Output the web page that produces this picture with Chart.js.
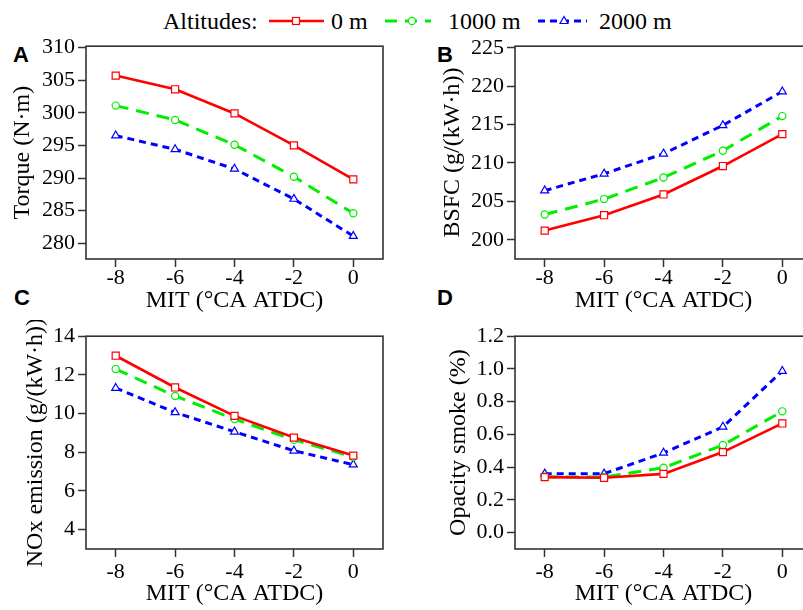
<!DOCTYPE html>
<html lang="en">
<head>
  <meta charset="UTF-8">
  <title>MIT at different altitudes</title>
  <script src="https://cdn.jsdelivr.net/npm/chart.js"></script>
  <style>
    html, body { margin: 0; padding: 0; background: #fff; overflow: hidden; }
    body { width: 803px; height: 610px; position: relative; font-family: 'Liberation Serif', 'Times New Roman', serif; }
    .panel { position: absolute; }
    .letter { position: absolute; font-family: 'Liberation Sans', Arial, sans-serif; font-weight: bold; font-size: 22px; line-height: 22px; color: #000; }
    .lg { position: absolute; top: 9px; font-size: 24px; line-height: 24px; color: #000; white-space: nowrap; }
    svg.lg { top: 0; }
  </style>
</head>
<body>
  <!-- legend -->
  <span class="lg" style="left:163px">Altitudes:</span>
  <svg class="lg" style="left:265px" width="64" height="40">
    <line x1="4" y1="21" x2="59" y2="21" stroke="#ff0000" stroke-width="2.6"/>
    <rect x="27.5" y="17.5" width="7" height="7" fill="#fff" stroke="#ff0000" stroke-width="1.2"/>
  </svg>
  <span class="lg" style="left:331px">0 m</span>
  <svg class="lg" style="left:381px" width="56" height="40">
    <line x1="4" y1="21" x2="50" y2="21" stroke="#00ee00" stroke-width="3" stroke-dasharray="12,8"/>
    <circle cx="31" cy="21" r="3.6" fill="#fff" stroke="#00ee00" stroke-width="1.2"/>
  </svg>
  <span class="lg" style="left:448px">1000 m</span>
  <svg class="lg" style="left:534px" width="58" height="40">
    <line x1="4" y1="21" x2="53" y2="21" stroke="#0000ff" stroke-width="3" stroke-dasharray="7,5"/>
    <polygon points="30,16.5 34,23.5 26,23.5" fill="#fff" stroke="#0000ff" stroke-width="1.2"/>
  </svg>
  <span class="lg" style="left:599px">2000 m</span>

  <div class="letter" style="left:13px;top:44px">A</div>
  <div class="letter" style="left:437px;top:44px">B</div>
  <div class="letter" style="left:14px;top:287px">C</div>
  <div class="letter" style="left:437px;top:287px">D</div>

  <div class="panel" id="pA"><canvas id="chartA"></canvas></div>
  <div class="panel" id="pB"><canvas id="chartB"></canvas></div>
  <div class="panel" id="pC"><canvas id="chartC"></canvas></div>
  <div class="panel" id="pD"><canvas id="chartD"></canvas></div>

  <script>
    // main injection timing (°CA ATDC)
    const mit = [-8, -6, -4, -2, 0];
    const mitTicks = [-8, -6, -4, -2, 0];
    const altitudes = ['0 m', '1000 m', '2000 m'];

    // A: torque
    const torque0 = [305.7, 303.6, 299.9, 295.0, 289.8];
    const torque1000 = [301.1, 298.9, 295.1, 290.2, 284.6];
    const torque2000 = [296.5, 294.4, 291.4, 286.8, 281.1];
    const torqueTicks = [280, 285, 290, 295, 300, 305, 310];

    // B: BSFC
    const bsfc0 = [201.2, 203.2, 205.9, 209.6, 213.75];
    const bsfc1000 = [203.3, 205.3, 208.1, 211.6, 216.1];
    const bsfc2000 = [206.4, 208.6, 211.2, 214.9, 219.3];
    const bsfcTicks = [200, 205, 210, 215, 220, 225];

    // C: NOx
    const nox0 = [12.99, 11.35, 9.88, 8.76, 7.83];
    const nox1000 = [12.30, 10.91, 9.72, 8.64, 7.76];
    const nox2000 = [11.32, 10.06, 9.06, 8.08, 7.36];
    const noxTicks = [4, 6, 8, 10, 12, 14];

    // D: opacity smoke
    const smoke0 = [0.339, 0.335, 0.359, 0.492, 0.667];
    const smoke1000 = [0.341, 0.339, 0.396, 0.535, 0.741];
    const smoke2000 = [0.360, 0.360, 0.487, 0.646, 0.987];
    const smokeTicks = [0.0, 0.2, 0.4, 0.6, 0.8, 1.0, 1.2];

    const serif = "'Liberation Serif', 'Times New Roman', serif";
    const axisColor = '#333';

    // frame round the plot area (Chart.js only draws the axis borders)
    const framePlugin = {
      id: 'frame',
      afterDraw(chart) {
        const a = chart.chartArea;
        const ctx = chart.ctx;
        ctx.save();
        ctx.strokeStyle = axisColor;
        ctx.lineWidth = 1.6;
        ctx.strokeRect(a.left, a.top, a.right - a.left, a.bottom - a.top);
        ctx.restore();
      }
    };

    function series(ys) {
      return mit.map((x, i) => ({ x: x, y: ys[i] }));
    }

    function datasets(s0, s1000, s2000) {
      return [
        { label: altitudes[0], data: series(s0), borderColor: '#ff0000', borderWidth: 2.6,
          pointStyle: 'rect', pointRadius: 5, pointBorderWidth: 1.2, pointBackgroundColor: '#fff' },
        { label: altitudes[1], data: series(s1000), borderColor: '#00ee00', borderWidth: 3, borderDash: [13, 8],
          pointStyle: 'circle', pointRadius: 3.6, pointBorderWidth: 1.2, pointBackgroundColor: '#fff' },
        { label: altitudes[2], data: series(s2000), borderColor: '#0000ff', borderWidth: 3, borderDash: [7, 5],
          pointStyle: 'triangle', pointRadius: 4.6, pointBorderWidth: 1.2, pointBackgroundColor: '#fff' }
      ];
    }

    // p: container box, a: plot area (page px)
    function makePanel(id, p, a, ds, yMin, yMax, yTicks, yFmt, yTitle, yTitleX, xPad, xTitleY) {
      const box = document.getElementById('p' + id);
      box.style.left = p.L + 'px';
      box.style.top = p.T + 'px';
      box.style.width = p.W + 'px';
      box.style.height = p.H + 'px';

      new Chart(document.getElementById('chart' + id), {
        type: 'line',
        data: { datasets: ds },
        options: {
          responsive: true,
          maintainAspectRatio: false,
          animation: false,
          layout: { padding: { top: a.T - p.T, right: p.L + p.W - a.R, left: 0, bottom: 0 } },
          plugins: { legend: { display: false }, tooltip: { enabled: false } },
          elements: { line: { tension: 0 } },
          scales: {
            x: {
              type: 'linear', min: -9, max: 1,
              afterFit(s) { s.height = p.T + p.H - a.B; },
              afterBuildTicks(s) { s.ticks = mitTicks.map(v => ({ value: v })); },
              border: { display: false },
              grid: { drawOnChartArea: false, drawTicks: true, tickLength: 8, tickColor: axisColor, tickWidth: 1.5 },
              ticks: { color: '#000', font: { family: serif, size: 22 }, padding: xPad, maxRotation: 0,
                callback: v => String(v) },
              title: { display: true, text: 'MIT (°CA ATDC)', color: '#000', font: { family: serif, size: 24 },
                padding: { top: 0, bottom: p.T + p.H - 14.4 - xTitleY } }
            },
            y: {
              type: 'linear', min: yMin, max: yMax,
              afterFit(s) { s.width = a.L - p.L; },
              afterBuildTicks(s) { s.ticks = yTicks.map(v => ({ value: v })); },
              border: { display: false },
              grid: { drawOnChartArea: false, drawTicks: true, tickLength: 8, tickColor: axisColor, tickWidth: 1.5 },
              ticks: { color: '#000', font: { family: serif, size: 22 }, padding: 3, callback: yFmt },
              title: { display: true, text: yTitle, color: '#000', font: { family: serif, size: 24 },
                padding: { top: yTitleX - p.L - 14.4, bottom: 0 } }
            }
          }
        },
        plugins: [framePlugin]
      });
    }

    const intFmt = v => String(v);
    const oneDec = v => v.toFixed(1);

    makePanel('A', { L: 0, T: 30, W: 395, H: 290 }, { L: 86, T: 45, R: 383, B: 259 },
      datasets(torque0, torque1000, torque2000), 277.6, 310.2, torqueTicks, intFmt, 'Torque (N·m)', 23, -2, 301);
    makePanel('B', { L: 400, T: 30, W: 420, H: 290 }, { L: 515, T: 45, R: 812, B: 259 },
      datasets(bsfc0, bsfc1000, bsfc2000), 197.5, 225.2, bsfcTicks, intFmt, 'BSFC (g/(kW·h))', 453, -2, 301);
    makePanel('C', { L: 0, T: 320, W: 395, H: 290 }, { L: 86, T: 336, R: 383, B: 549 },
      datasets(nox0, nox1000, nox2000), 3.0, 14.0, noxTicks, intFmt, 'NOx emission (g/(kW·h))', 35.5, 2, 594);
    makePanel('D', { L: 400, T: 320, W: 420, H: 290 }, { L: 515, T: 336, R: 812, B: 549 },
      datasets(smoke0, smoke1000, smoke2000), -0.1, 1.2, smokeTicks, oneDec, 'Opacity smoke (%)', 459, 2, 594);
  </script>
</body>
</html>
